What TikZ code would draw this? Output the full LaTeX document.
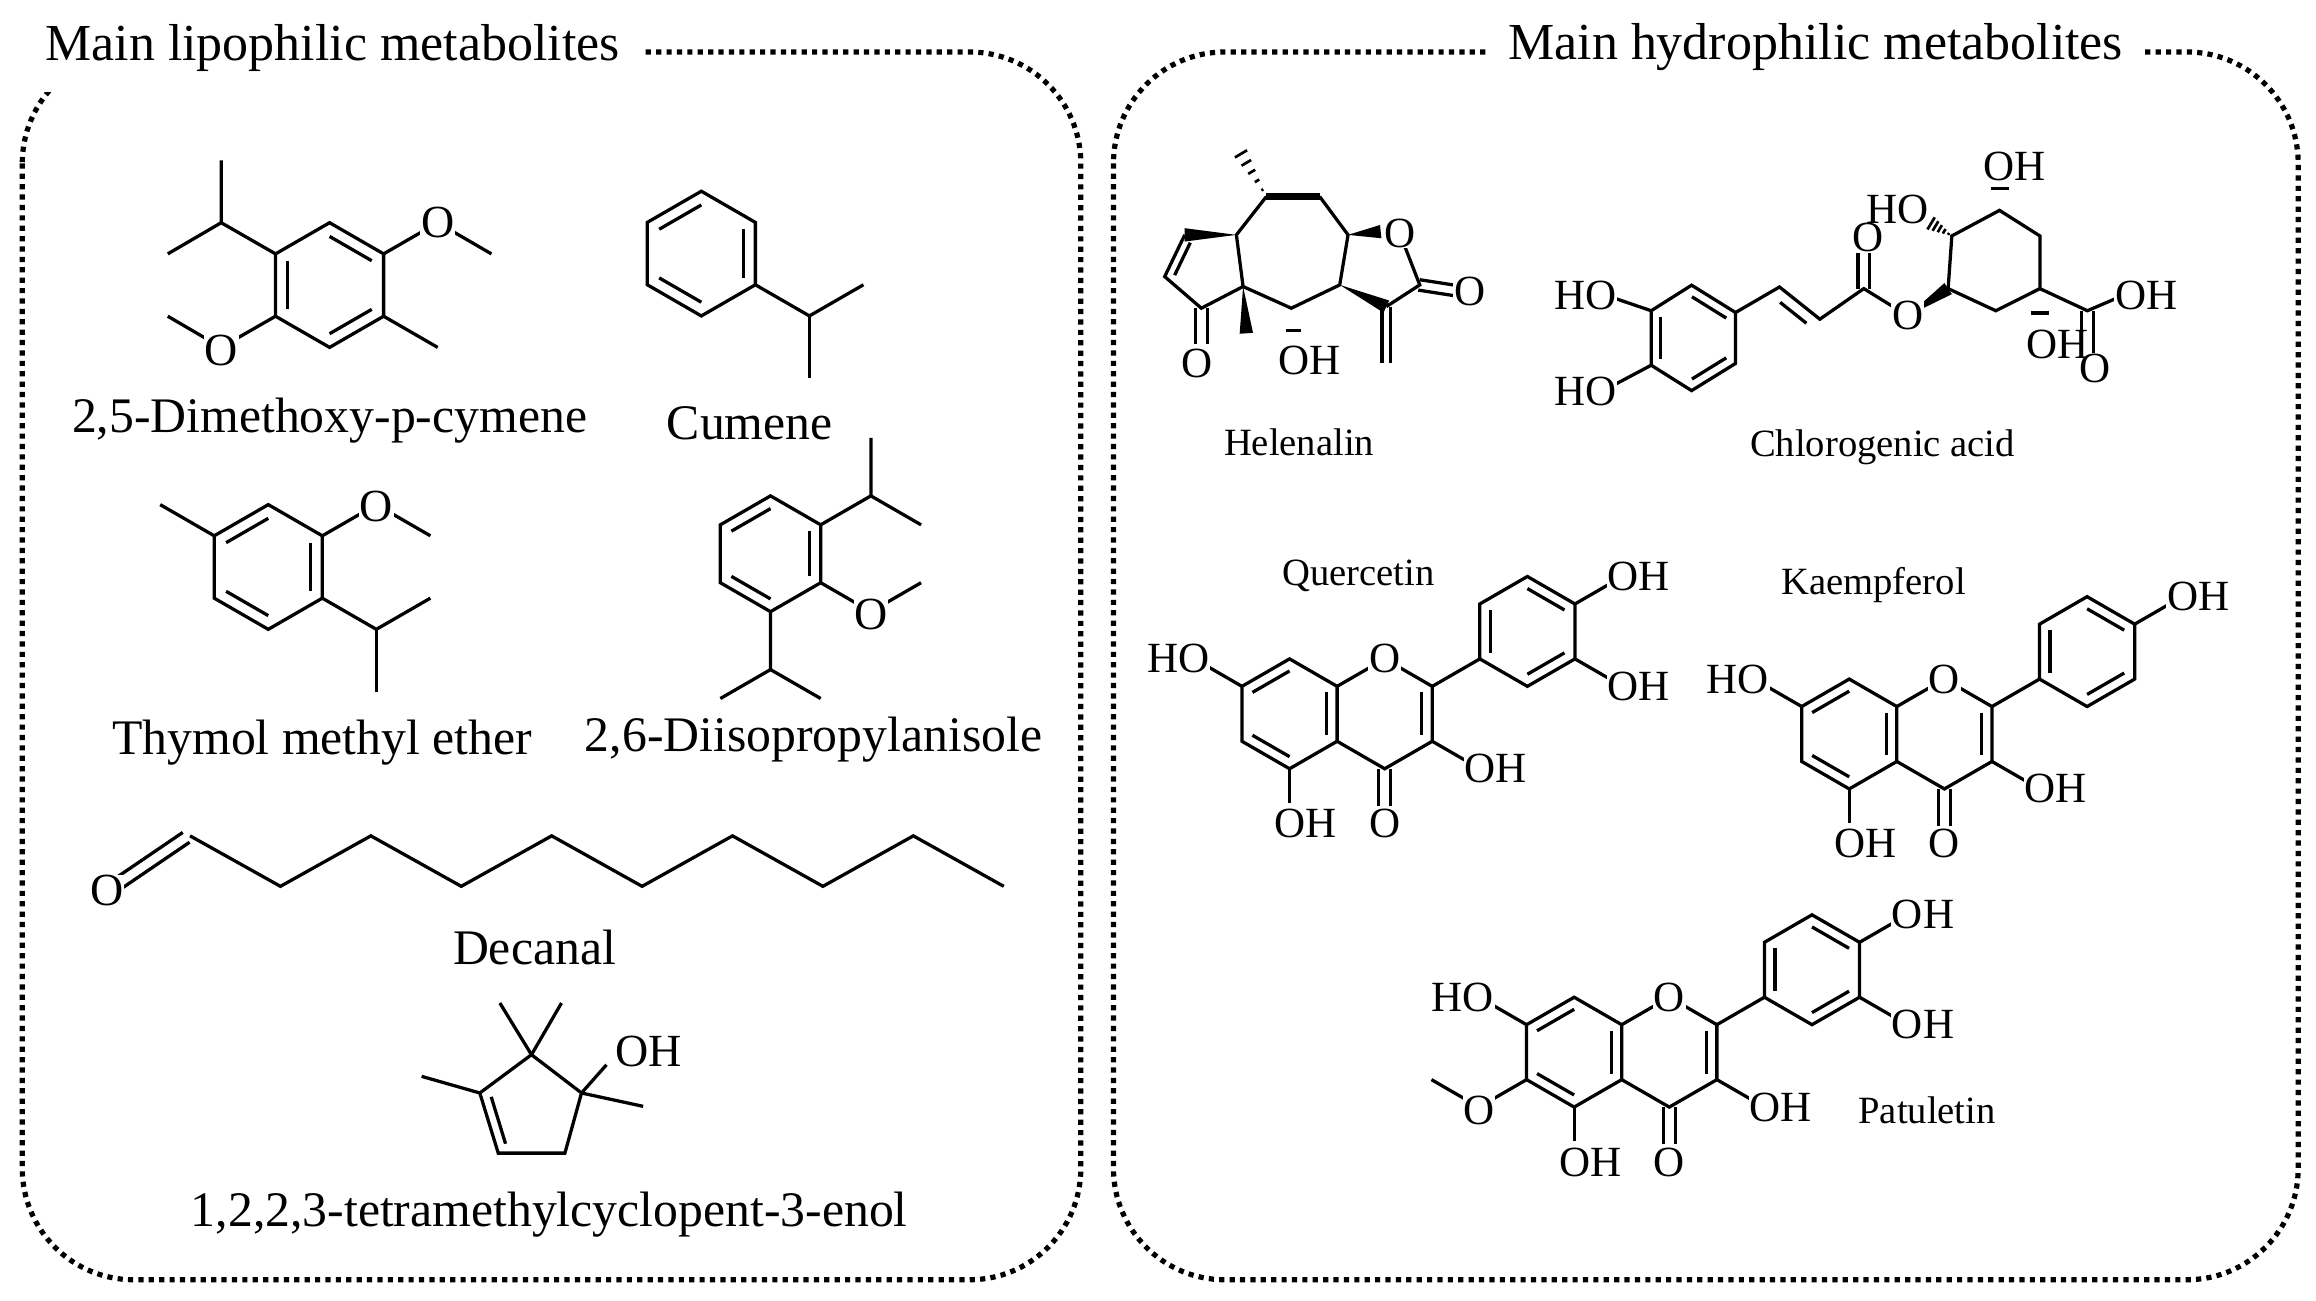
\documentclass[tikz,border=0pt]{standalone}
\usepackage{fontspec}
\setmainfont{Liberation Serif}
\usetikzlibrary{calc}
\tikzset{
  bond/.style={line width=2.2pt},
  atom/.style={font=\fontsize{29}{29}\selectfont, inner sep=0.5pt, fill=white},
  latom/.style={font=\fontsize{31}{31}\selectfont, inner sep=0.5pt, fill=white},
  lname/.style={font=\fontsize{33.5}{33.5}\selectfont, inner sep=1pt},
  rname/.style={font=\fontsize{26}{26}\selectfont, inner sep=1pt},
  title/.style={font=\fontsize{35}{35}\selectfont, fill=white, inner xsep=14pt, inner ysep=6pt},
  frame/.style={line width=3.5pt, dash pattern=on 3.5pt off 3.5pt, rounded corners=75pt},
}
\newcommand\dbin[3]{\draw[bond] ($(#1)!0.22!(#3)$) -- ($(#2)!0.22!(#3)$);}
\newcommand\wdg[2]{\fill ($(#1)$) -- ($(#2)!4.5pt!90:(#1)$) -- ($(#2)!4.5pt!-90:(#1)$) -- cycle;}
\newcommand\hsh[2]{\foreach \t in {0.15,0.35,0.55,0.75,0.95}{\coordinate (hp) at ($(#1)!\t!(#2)$);
  \draw[line width=1.8pt] ($(hp)!{\t*5pt}!90:(#2)$) -- ($(hp)!{\t*5pt}!-90:(#2)$);}}
\newcommand\flavcore{%
  \draw[bond] (0,-37) -- (32.04,-18.5) -- (32.04,18.5) -- (0,37) -- (-32.04,18.5) -- (-32.04,-18.5) -- cycle;
  \draw[bond] (32.04,-18.5) -- (64.09,-37) -- (96.13,-18.5) -- (96.13,18.5) -- (64.09,37) -- (32.04,18.5);
  \draw[bond] (128.17,-37) -- (128.17,-74) -- (160.2,-92.5) -- (192.25,-74) -- (192.25,-37) -- (160.2,-18.5) -- cycle;
  \draw[bond] (96.13,-18.5) -- (128.17,-37);
  \dbin{-32.04,-18.5}{0,-37}{0,0}
  \dbin{32.04,-18.5}{32.04,18.5}{0,0}
  \dbin{0,37}{-32.04,18.5}{0,0}
  \dbin{96.13,-18.5}{96.13,18.5}{64.09,0}
  \dbin{128.17,-37}{128.17,-74}{160.2,-55.5}
  \dbin{160.2,-92.5}{192.25,-74}{160.2,-55.5}
  \dbin{192.25,-37}{160.2,-18.5}{160.2,-55.5}
  \draw[bond] (-32.04,-18.5) -- (-64.09,-37);
  \draw[bond] (0,37) -- (0,60);
  \draw[bond] (60.09,37) -- (60.09,62);
  \draw[bond] (68.09,37) -- (68.09,62);
  \draw[bond] (96.13,18.5) -- (128.17,37);
  \draw[bond] (192.25,-74) -- (224.3,-92.5);
  \node[atom] (fO1) at (64.09,-37) {O};
  \node[atom] (fHO7) at (-75,-37) {HO};
  \node[atom] (fOH5) at (11,74) {OH};
  \node[atom] (fO4) at (64.09,74) {O};
  \node[atom] (fOH3) at (139,37) {OH};
  \node[atom] (fOH4p) at (235,-92.5) {OH};
}
\begin{document}
\begin{tikzpicture}[x=1pt,y=-1pt]
\useasboundingbox (0,0) rectangle (1560,876);
% frames
\draw[frame] (15,35) rectangle (728,862);
\draw[frame] (750,35) rectangle (1548,862);
\fill[white] (0,20) rectangle (45,62);
\node[title] (t1) at (224,32) {Main lipophilic metabolites};
\node[title] (t2) at (1223,32) {Main hydrophilic metabolites};

% ---- 2,5-Dimethoxy-p-cymene
\draw[bond] (222,150) -- (258.4,171) -- (258.4,213) -- (222,234) -- (185.6,213) -- (185.6,171) -- cycle;
\dbin{222,150}{258.4,171}{222,192}
\dbin{185.6,213}{185.6,171}{222,192}
\dbin{258.4,213}{222,234}{222,192}
\draw[bond] (185.6,171) -- (149,150) -- (149,108);
\draw[bond] (149,150) -- (113,171);
\draw[bond] (258.4,171) -- (294.8,150) -- (331,171);
\draw[bond] (185.6,213) -- (149,234) -- (113,213);
\draw[bond] (258.4,213) -- (294.8,234);
\node[latom] (d1o1) at (294.8,150) {O};
\node[latom] (d1o2) at (149,236) {O};
\node[lname] (n1) at (222,283) {2,5-Dimethoxy-p-cymene};

% ---- Cumene
\draw[bond] (472.4,128.8) -- (508.8,149.8) -- (508.8,191.8) -- (472.4,212.8) -- (436,191.8) -- (436,149.8) -- cycle;
\dbin{436,149.8}{472.4,128.8}{472.4,170.8}
\dbin{508.8,149.8}{508.8,191.8}{472.4,170.8}
\dbin{472.4,212.8}{436,191.8}{472.4,170.8}
\draw[bond] (508.8,191.8) -- (545.2,212.8) -- (581.6,191.8);
\draw[bond] (545.2,212.8) -- (545.2,254.8);
\node[lname] (n2) at (505,285) {Cumene};

% ---- Thymol methyl ether
\draw[bond] (180.7,339.9) -- (217.1,360.9) -- (217.1,402.9) -- (180.7,423.9) -- (144.3,402.9) -- (144.3,360.9) -- cycle;
\dbin{144.3,360.9}{180.7,339.9}{180.7,381.9}
\dbin{217.1,360.9}{217.1,402.9}{180.7,381.9}
\dbin{180.7,423.9}{144.3,402.9}{180.7,381.9}
\draw[bond] (144.3,360.9) -- (107.9,339.9);
\draw[bond] (217.1,360.9) -- (253.5,339.9) -- (289.9,360.9);
\draw[bond] (217.1,402.9) -- (253.5,423.9) -- (289.9,402.9);
\draw[bond] (253.5,423.9) -- (253.5,465.9);
\node[latom] (d3o) at (253.5,341) {O};
\node[lname] (n3) at (217,500) {Thymol methyl ether};

% ---- 2,6-Diisopropylanisole
\draw[bond] (519,334) -- (552.8,353.5) -- (552.8,392.5) -- (519,412) -- (485.2,392.5) -- (485.2,353.5) -- cycle;
\dbin{485.2,353.5}{519,334}{519,373}
\dbin{552.8,353.5}{552.8,392.5}{519,373}
\dbin{519,412}{485.2,392.5}{519,373}
\draw[bond] (552.8,353.5) -- (586.6,334) -- (586.6,295);
\draw[bond] (586.6,334) -- (620.4,353.5);
\draw[bond] (552.8,392.5) -- (586.6,412) -- (620.4,392.5);
\draw[bond] (519,412) -- (519,451) -- (485.2,470.5);
\draw[bond] (519,451) -- (552.8,470.5);
\node[latom] (d4o) at (586.6,414) {O};
\node[lname] (n4) at (548,498) {2,6-Diisopropylanisole};

% ---- Decanal
\draw[bond] (128,563) -- (188.9,597) -- (249.8,563) -- (310.7,597) -- (371.6,563) -- (432.5,597) -- (493.4,563) -- (554.3,597) -- (615.2,563) -- (676.1,597);
\draw[bond] (127.7,567.3) -- (77.7,601.3);
\draw[bond] (123.1,560.7) -- (73.1,594.7);
\node[latom] (d5o) at (72,600) {O};
\node[lname] (n5) at (360,638) {Decanal};

% ---- 1,2,2,3-tetramethylcyclopent-3-enol
\draw[bond] (358,710.4) -- (391.7,736.2) -- (380.5,776.7) -- (335.6,776.7) -- (323.2,736.2) -- cycle;
\dbin{323.2,736.2}{335.6,776.7}{358,748}
\draw[bond] (358,710.4) -- (336.7,675.6);
\draw[bond] (358,710.4) -- (378.2,675.6);
\draw[bond] (323.2,736.2) -- (284,725);
\draw[bond] (391.7,736.2) -- (408.5,717.2);
\draw[bond] (391.7,736.2) -- (433.2,745.2);
\node[latom] (d6oh) at (437,708) {OH};
\node[lname] (n6) at (370,818) {1,2,2,3-tetramethylcyclopent-3-enol};

% ---- Helenalin
\draw[line width=4.5pt] (853,132.4) -- (888.9,132.4);
\draw[bond] (888.9,132.4) -- (908,158.2) -- (902.4,191.9) -- (869.8,207.6) -- (837.3,193) -- (832.8,158.2) -- (853,132.4);
\hsh{853,132.4}{835,102.1}
\wdg{832.8,158.2}{798,158.2}
\draw[bond] (798,158.2) -- (784.5,186.3) -- (809.2,207.6) -- (837.3,193);
\dbin{798,158.2}{784.5,186.3}{815,182}
\draw[bond] (805.2,207.6) -- (805.2,232);
\draw[bond] (813.2,207.6) -- (813.2,232);
\wdg{837.3,193}{839.5,224.5}
\draw[line width=2.4pt] (866,222.5) -- (876,222.5);
\wdg{902.4,191.9}{933.8,206.5}
\draw[bond] (930.8,206.5) -- (930.8,244.7);
\draw[bond] (936.8,206.5) -- (936.8,244.7);
\draw[bond] (933.8,206.5) -- (956.3,191.9) -- (942.8,157.1);
\draw[bond] (956.3,188.4) -- (982,192.4);
\draw[bond] (955.3,195.4) -- (981,199.4);
\wdg{908,158.2}{930,156}
\node[atom] (hO1) at (942.8,157.1) {O};
\node[atom] (hO2) at (989.9,196.4) {O};
\node[atom] (hO3) at (806,245) {O};
\node[atom] (hOH) at (882.2,243) {OH};
\node[rname] (n7) at (875,298) {Helenalin};

% ---- Chlorogenic acid
\draw[bond] (1112.2,209.3) -- (1139.4,192.1) -- (1169,210.5) -- (1169,244.8) -- (1139.4,263.1) -- (1112.2,246) -- cycle;
\dbin{1139.4,192.1}{1169,210.5}{1140.6,227.6}
\dbin{1169,244.8}{1139.4,263.1}{1140.6,227.6}
\dbin{1112.2,246}{1112.2,209.3}{1140.6,227.6}
\draw[bond] (1112.2,209.3) -- (1082,199);
\draw[bond] (1112.2,246) -- (1082,262);
\draw[bond] (1169,210.5) -- (1198.6,193.3) -- (1225.8,215) -- (1255.4,194.4) -- (1285,212.7);
\draw[bond] ($(1198.6,193.3)!0.2!(1225.8,215)+(-5,6)$) -- ($(1198.6,193.3)!0.85!(1225.8,215)+(-5,6)$);
\draw[bond] (1251.4,194.4) -- (1251.4,168);
\draw[bond] (1259.4,194.4) -- (1259.4,168);
\wdg{1285,212.7}{1312.2,194.4}
\draw[bond] (1312.2,194.4) -- (1314.7,158.9) -- (1346.8,141.7) -- (1374,158.9) -- (1374,194.4) -- (1344.3,209.3) -- cycle;
\hsh{1314.7,158.9}{1300,150}
\draw[line width=2.4pt] (1341,127) -- (1353,127);
\draw[line width=2.4pt] (1368,211) -- (1380,211);
\draw[bond] (1374,194.4) -- (1406,209.3) -- (1430,199);
\draw[bond] (1402,209.3) -- (1402,238);
\draw[bond] (1410,209.3) -- (1410,238);
\node[atom] (cHO1) at (1068,199) {HO};
\node[atom] (cHO2) at (1068,264) {HO};
\node[atom] (cO1) at (1258,160) {O};
\node[atom] (cO2) at (1285,212.7) {O};
\node[atom, fill=none] (cHO3) at (1278,141) {HO};
\node[atom] (cOH1) at (1357,112) {OH};
\node[atom] (cOH2) at (1445.6,199) {OH};
\node[atom, fill=none] (cOH3) at (1386,232) {OH};
\node[atom, fill=none] (cO3) at (1411,248) {O};
\node[rname] (n8) at (1268,301) {Chlorogenic acid};

% ---- Quercetin
\begin{scope}[shift={(868.6,480.8)}]
\flavcore
\draw[bond] (192.25,-37) -- (224.3,-18.5);
\node[atom] (qOH3p) at (235,-18.5) {OH};
\end{scope}
\node[rname] (n9) at (915,388) {Quercetin};

% ---- Kaempferol
\begin{scope}[shift={(1245.6,494.4)}]
\flavcore
\end{scope}
\node[rname] (n10) at (1262,394) {Kaempferol};

% ---- Patuletin
\begin{scope}[shift={(1060.3,708.7)}]
\flavcore
\draw[bond] (192.25,-37) -- (224.3,-18.5);
\draw[bond] (-32.04,18.5) -- (-64.09,37) -- (-96.13,18.5);
\node[atom] (pOH3p) at (235,-18.5) {OH};
\node[atom] (pO6) at (-64.09,39) {O};
\end{scope}
\node[rname] (n11) at (1298,748) {Patuletin};
\end{tikzpicture}
\end{document}
